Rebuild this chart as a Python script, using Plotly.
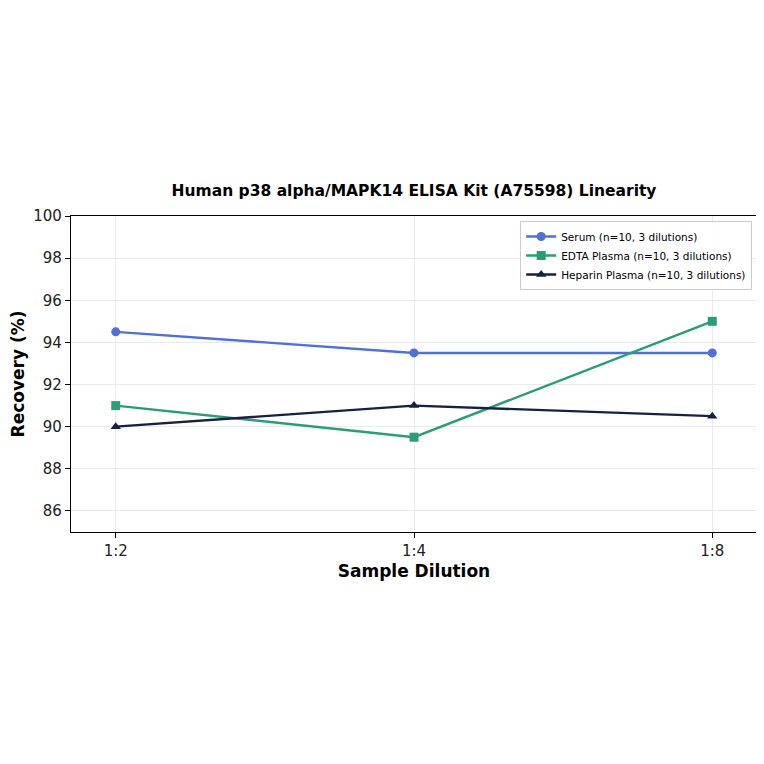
import plotly.graph_objects as go

# dilution categories and recovery (%) per sample type
dilutions = ['1:2', '1:4', '1:8']
serum = [94.5, 93.5, 93.5]
edta = [91.0, 89.5, 95.0]
heparin = [90.0, 91.0, 90.5]

series = [
    ('Serum (n=10, 3 dilutions)', serum, '#4f6fd9', 'circle'),
    ('EDTA Plasma (n=10, 3 dilutions)', edta, '#2a9d78', 'square'),
    ('Heparin Plasma (n=10, 3 dilutions)', heparin, '#15213f', 'triangle-up'),
]

fig = go.Figure()
for name, vals, color, sym in series:
    fig.add_trace(go.Scatter(
        x=list(range(len(dilutions))), y=vals, name=name, mode='lines+markers',
        line=dict(color=color, width=2.4),
        marker=dict(symbol=sym, size=9, color=color),
    ))

axis_common = dict(
    showline=True, linecolor='black', linewidth=1.3, mirror=True,
    ticks='outside', ticklen=5, tickcolor='black',
    showgrid=True, gridcolor='#ebebeb', gridwidth=1, zeroline=False,
    tickfont=dict(size=15, color='#222'), automargin=False,
)

fig.update_layout(
    width=764, height=764,
    margin=dict(l=63, r=15, t=208, b=240, autoexpand=False),
    paper_bgcolor='white', plot_bgcolor='white',
    font=dict(family='DejaVu Sans', color='black'),
    title=dict(text='<b>Human p38 alpha/MAPK14 ELISA Kit (A75598) Linearity</b>',
               xref='paper', x=0.5, xanchor='center', y=0.7605, yanchor='middle',
               font=dict(size=15.5)),
    xaxis=dict(axis_common, range=[-0.15, 2.15], tickvals=[0, 1, 2], ticktext=dilutions,
               title=dict(text='<b>Sample Dilution</b>', font=dict(size=17), standoff=5)),
    yaxis=dict(axis_common, range=[85, 100], dtick=2, tick0=86,
               title=dict(text='<b>Recovery (%)</b>', font=dict(size=17), standoff=8)),
    legend=dict(x=0.993, y=0.984, xanchor='right', yanchor='top',
                bgcolor='rgba(255,255,255,0.9)', bordercolor='#cccccc', borderwidth=1,
                font=dict(size=10.5), tracegroupgap=0, itemwidth=30),
    showlegend=True,
)

fig.write_html('out.html')
